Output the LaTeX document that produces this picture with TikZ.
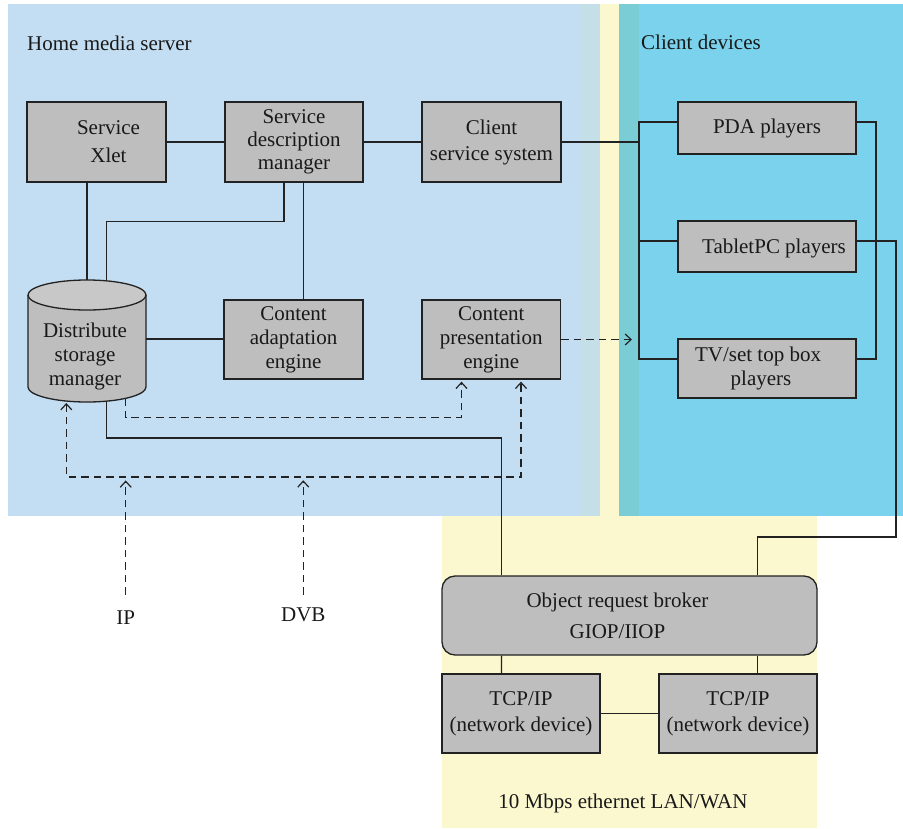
\documentclass[tikz,border=0pt]{standalone}
\usepackage{fontspec}
\setmainfont{Liberation Serif}
\usetikzlibrary{arrows.meta}
\definecolor{hmsblue}{HTML}{C3DEF2}
\definecolor{blendblue}{HTML}{C4DFE7}
\definecolor{lanyellow}{HTML}{FBF8CF}
\definecolor{tealstrip}{HTML}{7ACCD5}
\definecolor{clientcyan}{HTML}{7AD2EC}
\definecolor{boxgray}{HTML}{BEBEBE}
\definecolor{capgray}{HTML}{C8C8C8}
\definecolor{linegray}{HTML}{222222}
\begin{document}
\begin{tikzpicture}[x=1pt,y=-1pt,
  every node/.style={font=\fontsize{21}{24}\selectfont, text=black!90},
  box/.style={draw=linegray, line width=1.3pt, fill=boxgray, align=center, inner sep=2pt},
  conn/.style={draw=linegray, line width=1.3pt},
  dconn/.style={draw=linegray, line width=1.3pt, dash pattern=on 7.5pt off 5pt},
  tip/.style={-{Straight Barb[length=6pt,width=11pt,line width=1.2pt]}},
  lbl/.style={inner sep=0pt}
]
\useasboundingbox (0,0) rectangle (903,828);
% backgrounds
\fill[hmsblue] (8,4) rectangle (580,516);
\fill[blendblue] (580,4) rectangle (600,516);
\fill[lanyellow] (600,4) rectangle (619,516);
\fill[tealstrip] (619,4) rectangle (639,516);
\fill[clientcyan] (639,4) rectangle (903,516);
\fill[lanyellow] (442,516) rectangle (817,828);

% region labels
\node[lbl, anchor=west] (hmslabel) at (27,43) {Home media server};
\node[lbl, anchor=west] (cdlabel) at (641,42) {Client devices};
\node[lbl] (lanlabel) at (623,803) {10 Mbps ethernet LAN/WAN};

% cylinder (distribute storage manager)
\fill[boxgray] (28,295) -- (28,387) arc[start angle=180, end angle=360, x radius=59, y radius=-15] -- (146,295) -- cycle;
\draw[conn] (28,295) -- (28,387) arc[start angle=180, end angle=360, x radius=59, y radius=-15] -- (146,295);
\draw[conn, fill=capgray] (87,295) ellipse[x radius=59, y radius=15];
\node[lbl, align=center] (dsm) at (85,356) {Distribute\\storage\\manager};
\coordinate (dsmT1) at (87,280);
\coordinate (dsmT2) at (106.5,281);
\coordinate (dsmR) at (146,339);
\coordinate (dsmB1) at (106.5,401);
\coordinate (dsmB2) at (125.6,398.5);
\coordinate (dsmB3) at (66.3,403);

% boxes
\node[box, minimum width=139pt, minimum height=80pt] (xlet) at (96.5,142)
  {\hspace*{24pt}Service\\[4pt]\hspace*{24pt}Xlet};
\node[box, minimum width=138pt, minimum height=80pt, font=\fontsize{21}{23}\selectfont] (sdm) at (294,142)
  {Service\\description\\manager};
\node[box, minimum width=139pt, minimum height=80pt] (css) at (491.5,142)
  {Client\\[2pt]service system};
\node[box, minimum width=178pt, minimum height=52pt] (pda) at (767,128) {PDA players};
\node[box, minimum width=178pt, minimum height=51pt, text depth=0pt] (tab) at (767,246.5) {\hspace*{14pt}TabletPC players};
\node[box, minimum width=178pt, minimum height=59pt] (tv) at (767,368.5)
  {TV/set top box\hspace*{18pt}\null\\\hspace*{-6pt}players\hspace*{6pt}\null};
\node[box, minimum width=139pt, minimum height=79pt] (cae) at (293.5,339.5)
  {Content\\adaptation\\engine};
\node[box, minimum width=138.5pt, minimum height=79pt] (cpe) at (491.25,339.5)
  {Content\\presentation\\engine};
\node[box, minimum width=375pt, minimum height=79pt, rounded corners=13pt] (orb) at (629.5,615.5)
  {Object request broker\hspace*{24pt}\null\\[7pt]GIOP/IIOP\hspace*{24pt}\null};
\node[box, minimum width=158pt, minimum height=79pt] (tcpa) at (521,713.5)
  {TCP/IP\\[2pt](network device)};
\node[box, minimum width=158pt, minimum height=79pt] (tcpb) at (738,713.5)
  {TCP/IP\\[2pt](network device)};

% inputs
\node[lbl, inner ysep=16pt] (ip) at (125.7,618) {IP};
\node[lbl, inner ysep=13pt] (dvb) at (303.3,615) {DVB};

% client bus coordinates
\coordinate (busTop) at (639,122);
\coordinate (busTab) at (639,241);
\coordinate (busBot) at (639,359);
\coordinate (rbTop) at (876,122);
\coordinate (rbBot) at (876,359);
\coordinate (cpeArrow) at (632,339.5);

% solid connectors
\draw[conn] (xlet) -- (sdm);
\draw[conn] (sdm) -- (css);
\draw[conn] (css.east) -- (css.east -| busTop) ;
\draw[conn] (busTop -| pda.west) -- (busTop) -- (busBot) -- (busBot -| tv.west);
\draw[conn] (busTab) -- (busTab -| tab.west);
\draw[conn] (rbTop -| pda.east) -- (rbTop) -- (rbBot) -- (rbBot -| tv.east);
\draw[conn] ([yshift=5.5pt]tab.east) -| (896,537) -| ([xshift=128.2pt]orb.north);
\draw[conn] ([xshift=-9.5pt]xlet.south) -- (dsmT1);
\draw[conn] ([xshift=-10pt]sdm.south) -- ++(0,38.7) -| (dsmT2);
\draw[conn] ([xshift=9.3pt]sdm.south) -- ([xshift=9.8pt]cae.north);
\draw[conn] (dsmR) -- (cae.west |- dsmR);
\draw[conn] (dsmB1) -- (106.5,438) -| ([xshift=-127.9pt]orb.north);
\draw[conn] ([xshift=-127.9pt]orb.south) -- ([xshift=-19.5pt]tcpa.north);
\draw[conn] ([xshift=128.2pt]orb.south) -- ([xshift=19.7pt]tcpb.north);
\draw[conn] (tcpa.east) -- (tcpb.west);

% dashed connectors
\draw[dconn, tip] (cpe.east) -- (cpeArrow);
\draw[dconn, tip, shorten >=2pt] (dsmB2) -- (125.6,417.7) -| ([xshift=-29.75pt]cpe.south);
\draw[dconn, {Straight Barb[length=6pt,width=11pt,line width=1.2pt]}-{Straight Barb[length=6pt,width=11pt,line width=1.2pt]}, shorten >=2pt]
  (dsmB3) |- (521,477) -- ([xshift=29.75pt]cpe.south);
\draw[dconn, tip, shorten >=3.5pt] (ip.north) -- ++(0,-118);
\draw[dconn, tip, shorten >=3.5pt] (dvb.north) -- ++(0,-118);
\end{tikzpicture}
\end{document}
